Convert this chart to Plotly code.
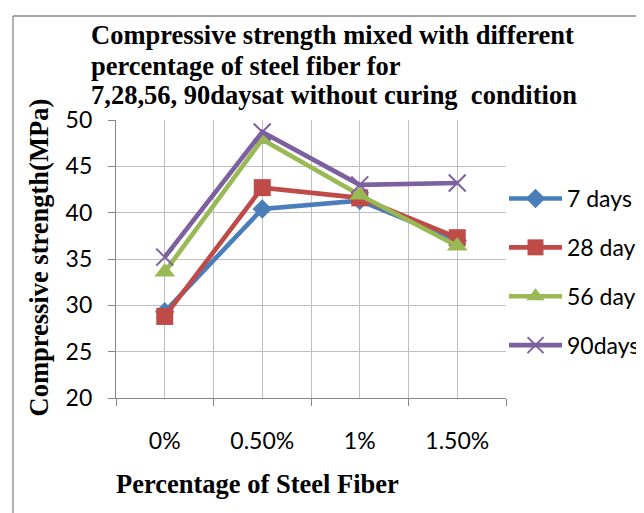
import plotly.graph_objects as go

categories = ["0%", "0.50%", "1%", "1.50%"]
days7 = [29.3, 40.4, 41.3, 37.0]
days28 = [28.8, 42.7, 41.6, 37.3]
days56 = [33.6, 47.9, 41.9, 36.4]
days90 = [35.2, 48.7, 43.0, 43.2]
series_names = ["7 days", "28 days", "56 days", "90days"]
y_ticks = [20, 25, 30, 35, 40, 45, 50]
title_lines = [
    "Compressive strength mixed with different",
    "percentage of steel fiber for",
    "7,28,56, 90daysat without curing  condition",
]

# page has an 8px body margin, so the figure is drawn 8px smaller
W, H = 636, 505
L, R, T, B = 108, 498, 112, 390

colors = ["#4A7EBB", "#BE4B48", "#98B954", "#7D60A0"]
symbols = ["diamond", "square", "triangle-up", "x-thin"]
sizes = [15, 17, 18, 17]
xpos = list(range(len(categories)))

fig = go.Figure()
for i, (name, vals) in enumerate(zip(series_names, [days7, days28, days56, days90])):
    marker = dict(symbol=symbols[i], size=sizes[i], color=colors[i])
    if symbols[i] == "x-thin":
        marker["line"] = dict(width=2, color=colors[i])
    fig.add_trace(go.Scatter(
        x=xpos, y=vals, name=name, mode="lines+markers",
        line=dict(color=colors[i], width=4.6),
        marker=marker, legendgroup=name,
    ))

grid = "#BFBFBF"
axis_line = "#878787"
sans = "Lato, Liberation Sans, sans-serif"
serif = "Liberation Serif, Times New Roman, serif"


def px(xp):
    return (xp - L) / (R - L)


def py(yp):
    return (B - yp) / (B - T)


fig.update_layout(
    width=W, height=H,
    margin=dict(l=L, r=W - R, t=T, b=H - B, pad=0, autoexpand=False),
    paper_bgcolor="white", plot_bgcolor="white",
    font=dict(family=sans, size=23, color="black"),
    xaxis=dict(
        range=[-0.5, 3.5], tickvals=xpos, ticktext=categories,
        showgrid=True, gridcolor=grid, gridwidth=1.3,
        ticks="", showline=True, linecolor=axis_line, linewidth=1.3,
        zeroline=False, ticklabelstandoff=22,
        tickfont=dict(family=sans, size=23),
        minor=dict(tickvals=[-0.5, 0.5, 1.5, 2.5, 3.5], showgrid=True,
                   gridcolor=grid, gridwidth=1.3, ticks="outside", ticklen=7,
                   tickcolor=axis_line, tickwidth=1.3),
        fixedrange=True,
    ),
    yaxis=dict(
        range=[20, 50], tickvals=y_ticks,
        showgrid=True, gridcolor=grid, gridwidth=1.3,
        ticks="outside", ticklen=7, tickcolor=axis_line, tickwidth=1.3,
        showline=True, linecolor=axis_line, linewidth=1.3, zeroline=False,
        ticklabelstandoff=11, tickfont=dict(family=sans, size=23),
        fixedrange=True,
    ),
    legend=dict(
        x=496 / W, xanchor="left", y=1 - 169 / H, yanchor="top",
        yref="container", xref="container",
        traceorder="grouped", tracegroupgap=16, itemwidth=53,
        font=dict(family=sans, size=23),
        bgcolor="rgba(0,0,0,0)",
    ),
    showlegend=True,
)

# title, one line per annotation for the tight line spacing of the reference
for line, yc in zip(title_lines, [27, 58, 87]):
    fig.add_annotation(
        text=line, xref="paper", yref="paper", x=px(81), y=py(yc),
        xanchor="left", yanchor="middle", showarrow=False,
        font=dict(family=serif, size=26.5, color="black", weight="bold"),
    )
fig.add_annotation(
    text="Compressive strength(MPa)", textangle=-90,
    xref="paper", yref="paper", x=px(30), y=py(249.5),
    xanchor="center", yanchor="middle", showarrow=False,
    font=dict(family=serif, size=26.5, color="black", weight="bold"),
)
fig.add_annotation(
    text="Percentage of Steel Fiber",
    xref="paper", yref="paper", x=px(249), y=py(476),
    xanchor="center", yanchor="middle", showarrow=False,
    font=dict(family=serif, size=26.5, color="black", weight="bold"),
)
# outer chart border (top and left visible in the reference)
fig.add_shape(type="line", xref="paper", yref="paper",
              x0=px(5), x1=px(W + 5), y0=py(8), y1=py(8),
              line=dict(color="#878787", width=1.3))
fig.add_shape(type="line", xref="paper", yref="paper",
              x0=px(5), x1=px(5), y0=py(8), y1=py(H + 5),
              line=dict(color="#878787", width=1.3))

fig.write_html("out.html")
